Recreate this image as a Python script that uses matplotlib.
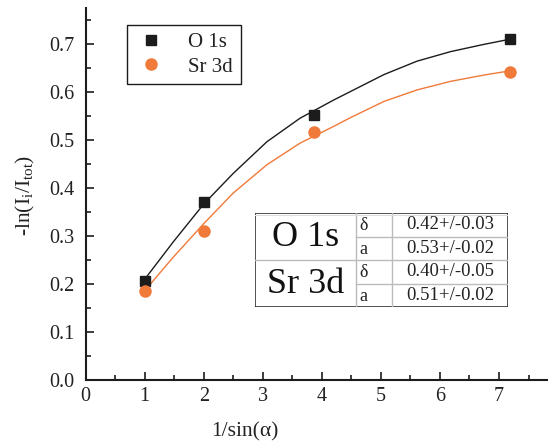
import matplotlib
matplotlib.use("Agg")
import matplotlib.pyplot as plt
from matplotlib.lines import Line2D
from matplotlib.font_manager import FontProperties

# ---- data ----
x_pts = [1.0, 2.0, 3.86, 7.19]
o1s_pts = [0.206, 0.371, 0.553, 0.712]
sr3d_pts = [0.186, 0.311, 0.518, 0.642]

# fit curves
o1s_fit_x = [1.0, 1.49, 2.0, 2.5, 3.07, 3.63, 4.2, 5.05, 5.61, 6.18, 6.74, 7.19]
o1s_fit = [0.210, 0.289, 0.367, 0.431, 0.497, 0.546, 0.584, 0.637, 0.665, 0.685, 0.700, 0.711]
sr3d_fit_x = [1.0, 1.49, 2.0, 2.5, 3.07, 3.63, 4.2, 4.48, 5.05, 5.61, 6.18, 6.74, 7.19]
sr3d_fit = [0.186, 0.257, 0.326, 0.390, 0.449, 0.494, 0.529, 0.547, 0.581, 0.605, 0.623, 0.636, 0.645]

series_names = ["O 1s", "Sr 3d"]
param_names = ["δ", "a"]
param_values = [["0.42+/-0.03", "0.53+/-0.02"], ["0.40+/-0.05", "0.51+/-0.02"]]

x_ticks = [0, 1, 2, 3, 4, 5, 6, 7]
y_ticks = [0.0, 0.1, 0.2, 0.3, 0.4, 0.5, 0.6, 0.7]

BLACK = "#1c1c1c"
ORANGE = "#f07a3a"
SERIF = ["Liberation Serif", "DejaVu Serif"]

plt.rcParams["font.family"] = SERIF
plt.rcParams["mathtext.fontset"] = "custom"
plt.rcParams["mathtext.rm"] = "Liberation Serif"
plt.rcParams["mathtext.it"] = "Liberation Serif:italic"

W, H = 548, 445
fig = plt.figure(figsize=(W / 100, H / 100), dpi=100)
ax = fig.add_axes([85.6 / W, 1 - 380 / H, 1 - 85.6 / W, (380 - 8) / H])

ax.plot(o1s_fit_x, o1s_fit, color=BLACK, lw=1.0, zorder=2)
ax.plot(sr3d_fit_x, sr3d_fit, color=ORANGE, lw=1.0, zorder=2)
ax.plot(x_pts, o1s_pts, ls="none", marker="s", ms=7.5, color=BLACK, zorder=3)
ax.plot(x_pts, sr3d_pts, ls="none", marker="o", ms=8, color=ORANGE, zorder=3)

ax.set_xlim(0, 7.83)
ax.set_ylim(0, 0.776)
ax.set_xticks(x_ticks)
ax.set_yticks(y_ticks)
tickfont = {"family": SERIF, "size": 14.5}
ax.set_xticklabels([str(t) for t in x_ticks], fontdict=tickfont)
ax.set_yticklabels([f"{t:.1f}" for t in y_ticks], fontdict=tickfont)
ax.set_xticks([t + 0.5 for t in x_ticks], minor=True)
ax.set_yticks([t + 0.05 for t in y_ticks], minor=True)
ax.tick_params(which="both", direction="in", color=BLACK, width=1.2, labelcolor="#222222")
ax.tick_params(which="major", length=6)
ax.tick_params(which="minor", length=3.5)
ax.tick_params(axis="x", pad=5)
ax.tick_params(axis="y", pad=8)
for s in ["top", "right"]:
    ax.spines[s].set_visible(False)
for s in ["left", "bottom"]:
    ax.spines[s].set_linewidth(1.5)
    ax.spines[s].set_color(BLACK)

fig.text(245 / W, 1 - 432 / H, "1/sin(α)", fontsize=15.5, family=SERIF, ha="center", va="center", color="#222222")
fig.text(25 / W, 1 - 195 / H, r"-ln(I$_{\mathrm{i}}$/I$_{\mathrm{tot}}$)", fontsize=15.5, family=SERIF,
         ha="center", va="center", rotation=90, color="#222222")

handles = [Line2D([], [], ls="none", marker="s", ms=7.5, color=BLACK),
           Line2D([], [], ls="none", marker="o", ms=8, color=ORANGE)]
leg = ax.legend(handles, series_names, loc="upper left", bbox_to_anchor=(127 / W, 1 - 25 / H),
                bbox_transform=fig.transFigure, frameon=True, fancybox=False, framealpha=1,
                edgecolor=BLACK, prop=FontProperties(family=SERIF, size=15), borderpad=0.35,
                handletextpad=1.0, labelspacing=0.25, handlelength=1.6, borderaxespad=0)
leg.get_frame().set_linewidth(1.0)
for t in leg.get_texts():
    t.set_color("#222222")

# ---- parameter table ----
tx0, tx1, ty0, ty1 = 255, 508, 213, 307
tab = fig.add_axes([tx0 / W, 1 - ty1 / H, (tx1 - tx0) / W, (ty1 - ty0) / H])
tab.set_xlim(tx0, tx1)
tab.set_ylim(ty1, ty0)
tab.axis("off")
tab.add_patch(plt.Rectangle((tx0, ty0), tx1 - tx0, ty1 - ty0, fill=True, facecolor="white",
                            edgecolor="#333333", lw=1.2, zorder=1))
c1, c2 = 356, 392
rh = (ty1 - ty0) / 4
GRID = "#bbbbbb"
tab.plot([c1, c1], [ty0, ty1], color=GRID, lw=1.0, zorder=2)
tab.plot([c2, c2], [ty0, ty1], color=GRID, lw=1.0, zorder=2)
tab.plot([tx0, tx1], [ty0 + 2, ty0 + 2], color="#dddddd", lw=0.8, zorder=2)
for k in range(1, 4):
    xs = tx0 if k == 2 else c1
    tab.plot([xs, tx1], [ty0 + k * rh, ty0 + k * rh], color=GRID, lw=1.0, zorder=2)
for i, name in enumerate(series_names):
    yc = ty0 + (2 * i + 1) * rh
    tab.text((tx0 + c1) / 2, yc + 1, name, fontsize=26, family=SERIF, ha="center", va="center",
             color="#111111", zorder=3)
    for j, pn in enumerate(param_names):
        yr = ty0 + (2 * i + j + 0.5) * rh
        tab.text(c1 + 3, yr + 1, pn, fontsize=13, family=SERIF, ha="left", va="center",
                 color="#222222", zorder=3)
        tab.text((c2 + tx1) / 2, yr, param_values[i][j], fontsize=13.5, family=SERIF, ha="center",
                 va="center", color="#222222", zorder=3)

fig.savefig("out.png", dpi=100)
